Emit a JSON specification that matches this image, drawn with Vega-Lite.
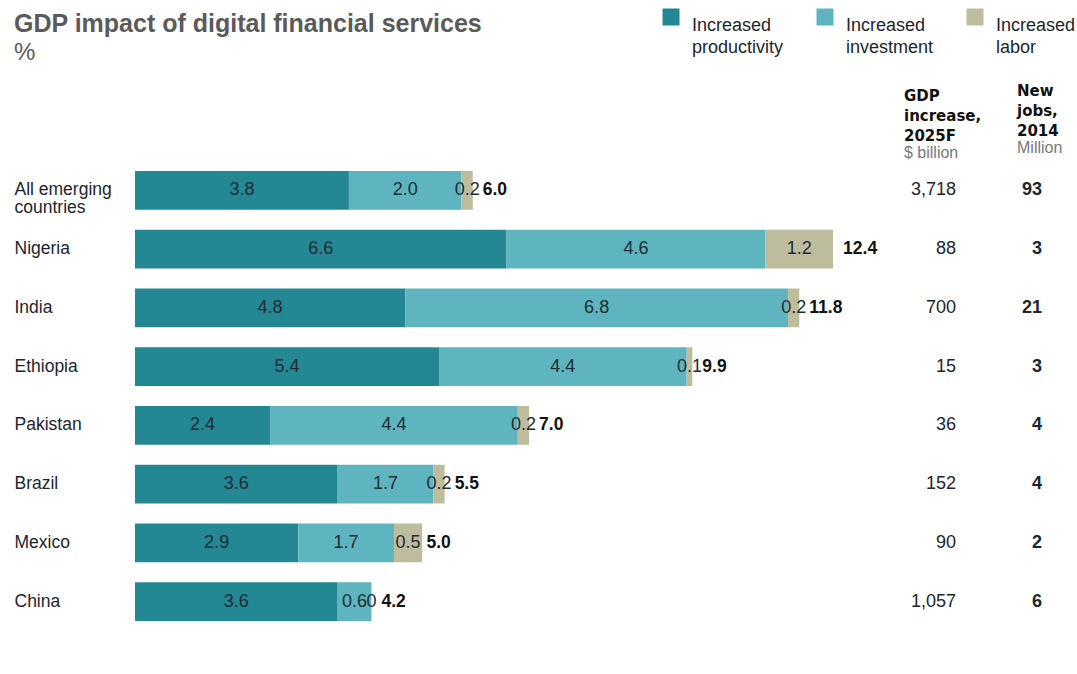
{
  "$schema": "https://vega.github.io/schema/vega-lite/v6.json",
  "background": "white",
  "padding": {"left": 14, "top": 8, "right": 0, "bottom": 5},
  "bounds": "flush",
  "spacing": 9,
  "title": {
    "text": "GDP impact of digital financial services",
    "subtitle": "%",
    "anchor": "start",
    "frame": "bounds",
    "font": "Liberation Sans",
    "fontSize": 25,
    "fontWeight": "bold",
    "color": "#5a5a5a",
    "subtitleFont": "Liberation Sans",
    "subtitleFontSize": 24,
    "subtitleColor": "#5a5a5a",
    "subtitlePadding": 4,
    "offset": -57
  },
  "config": {"view": {"stroke": null}, "font": "Liberation Sans", "style": {"guide-label": {"lineHeight": 22}}},
  "datasets": {
    "segments": [
      {"country": "All emerging countries", "component": "Increased productivity", "ord": 1, "value": 3.8},
      {"country": "All emerging countries", "component": "Increased investment", "ord": 2, "value": 2.0},
      {"country": "All emerging countries", "component": "Increased labor", "ord": 3, "value": 0.2},
      {"country": "Nigeria", "component": "Increased productivity", "ord": 1, "value": 6.6},
      {"country": "Nigeria", "component": "Increased investment", "ord": 2, "value": 4.6},
      {"country": "Nigeria", "component": "Increased labor", "ord": 3, "value": 1.2},
      {"country": "India", "component": "Increased productivity", "ord": 1, "value": 4.8},
      {"country": "India", "component": "Increased investment", "ord": 2, "value": 6.8},
      {"country": "India", "component": "Increased labor", "ord": 3, "value": 0.2},
      {"country": "Ethiopia", "component": "Increased productivity", "ord": 1, "value": 5.4},
      {"country": "Ethiopia", "component": "Increased investment", "ord": 2, "value": 4.4},
      {"country": "Ethiopia", "component": "Increased labor", "ord": 3, "value": 0.1},
      {"country": "Pakistan", "component": "Increased productivity", "ord": 1, "value": 2.4},
      {"country": "Pakistan", "component": "Increased investment", "ord": 2, "value": 4.4},
      {"country": "Pakistan", "component": "Increased labor", "ord": 3, "value": 0.2},
      {"country": "Brazil", "component": "Increased productivity", "ord": 1, "value": 3.6},
      {"country": "Brazil", "component": "Increased investment", "ord": 2, "value": 1.7},
      {"country": "Brazil", "component": "Increased labor", "ord": 3, "value": 0.2},
      {"country": "Mexico", "component": "Increased productivity", "ord": 1, "value": 2.9},
      {"country": "Mexico", "component": "Increased investment", "ord": 2, "value": 1.7},
      {"country": "Mexico", "component": "Increased labor", "ord": 3, "value": 0.5},
      {"country": "China", "component": "Increased productivity", "ord": 1, "value": 3.6},
      {"country": "China", "component": "Increased investment", "ord": 2, "value": 0.6},
      {"country": "China", "component": "Increased labor", "ord": 3, "value": 0}
    ],
    "countries": [
      {"country": "All emerging countries", "total": 6.0, "gdp": 3718, "jobs": 93},
      {"country": "Nigeria", "total": 12.4, "gdp": 88, "jobs": 3},
      {"country": "India", "total": 11.8, "gdp": 700, "jobs": 21},
      {"country": "Ethiopia", "total": 9.9, "gdp": 15, "jobs": 3},
      {"country": "Pakistan", "total": 7.0, "gdp": 36, "jobs": 4},
      {"country": "Brazil", "total": 5.5, "gdp": 152, "jobs": 4},
      {"country": "Mexico", "total": 5.0, "gdp": 90, "jobs": 2},
      {"country": "China", "total": 4.2, "gdp": 1057, "jobs": 6}
    ]
  },
  "hconcat": [
    {
      "width": 760,
      "height": 470,
      "layer": [
        {
          "data": {"name": "segments"},
          "mark": {"type": "bar"},
          "encoding": {
            "y": {
              "field": "country", "type": "nominal",
              "sort": ["All emerging countries", "Nigeria", "India", "Ethiopia", "Pakistan", "Brazil", "Mexico", "China"],
              "scale": {"paddingInner": 0.34, "paddingOuter": 0.17},
              "axis": {
                "title": null, "domain": false, "ticks": false,
                "labelAlign": "left", "labelPadding": 121, "labelFontSize": 17.5,
                "labelFont": "Liberation Sans", "labelColor": "#1c2530", "labelLimit": 200,
                "labelLineHeight": 18,
                "labelExpr": "datum.value == 'All emerging countries' ? ['All emerging', 'countries'] : datum.value"
              }
            },
            "x": {"field": "value", "type": "quantitative", "stack": "zero",
                  "scale": {"domain": [0, 13.5], "nice": false, "zero": true}, "axis": null},
            "color": {
              "field": "component", "type": "nominal",
              "scale": {"domain": ["Increased productivity", "Increased investment", "Increased labor"],
                        "range": ["#238893", "#5eb5bf", "#bdbd9d"]},
              "legend": {
                "title": null, "orient": "none", "direction": "horizontal",
                "legendX": 527, "legendY": -153,
                "symbolType": "square", "symbolSize": 289, "symbolStrokeWidth": 0, "symbolOpacity": 1,
                "labelFont": "Liberation Sans", "labelFontSize": 18, "labelColor": "#1c2530",
                "labelExpr": "split(datum.label, ' ')", "labelLimit": 300,
                "labelOffset": 12, "columnPadding": 32, "labelBaseline": "top"
              }
            },
            "order": {"field": "ord"}
          }
        },
        {
          "data": {"name": "segments"},
          "mark": {"type": "text", "fontSize": 18, "color": "#1d2b33", "font": "Liberation Sans"},
          "encoding": {
            "y": {"field": "country", "type": "nominal",
                  "sort": ["All emerging countries", "Nigeria", "India", "Ethiopia", "Pakistan", "Brazil", "Mexico", "China"]},
            "x": {"field": "value", "type": "quantitative", "stack": "zero", "bandPosition": 0.5},
            "detail": {"field": "component"},
            "order": {"field": "ord"},
            "text": {"condition": {"test": "datum.value == 0", "value": "0"}, "field": "value", "type": "quantitative", "format": ".1f"}
          }
        },
        {
          "data": {"name": "countries"},
          "mark": {"type": "text", "align": "left", "dx": 10, "fontSize": 17.5, "fontWeight": "bold", "color": "#111111", "font": "Liberation Sans"},
          "encoding": {
            "y": {"field": "country", "type": "nominal",
                  "sort": ["All emerging countries", "Nigeria", "India", "Ethiopia", "Pakistan", "Brazil", "Mexico", "China"]},
            "x": {"field": "total", "type": "quantitative"},
            "text": {"field": "total", "type": "quantitative", "format": ".1f"}
          }
        }
      ]
    },
    {
      "width": 104,
      "height": 470,
      "title": {
        "text": ["GDP", "increase,", "2025F"],
        "subtitle": "$ billion",
        "anchor": "start", "font": "DejaVu Sans", "fontSize": 15, "fontWeight": "bold",
        "color": "#111111", "lineHeight": 20,
        "subtitleFont": "Liberation Sans", "subtitleFontSize": 16, "subtitleColor": "#777777",
        "subtitlePadding": 1, "offset": 0
      },
      "data": {"name": "countries"},
      "mark": {"type": "text", "align": "right", "fontSize": 18, "color": "#1c2530", "font": "Liberation Sans"},
      "encoding": {
        "y": {"field": "country", "type": "nominal",
              "sort": ["All emerging countries", "Nigeria", "India", "Ethiopia", "Pakistan", "Brazil", "Mexico", "China"],
              "scale": {"paddingInner": 0.34, "paddingOuter": 0.17}, "axis": null},
        "text": {"field": "gdp", "type": "quantitative", "format": ","}
      }
    },
    {
      "width": 50,
      "height": 470,
      "title": {
        "text": ["New", "jobs,", "2014"],
        "subtitle": "Million",
        "anchor": "start", "font": "DejaVu Sans", "fontSize": 15, "fontWeight": "bold",
        "color": "#111111", "lineHeight": 20,
        "subtitleFont": "Liberation Sans", "subtitleFontSize": 16, "subtitleColor": "#777777",
        "subtitlePadding": 1, "offset": 5
      },
      "data": {"name": "countries"},
      "mark": {"type": "text", "align": "right", "fontSize": 18, "fontWeight": "bold", "color": "#1c2530", "font": "Liberation Sans"},
      "encoding": {
        "y": {"field": "country", "type": "nominal",
              "sort": ["All emerging countries", "Nigeria", "India", "Ethiopia", "Pakistan", "Brazil", "Mexico", "China"],
              "scale": {"paddingInner": 0.34, "paddingOuter": 0.17}, "axis": null},
        "text": {"field": "jobs", "type": "quantitative"}
      }
    }
  ]
}
